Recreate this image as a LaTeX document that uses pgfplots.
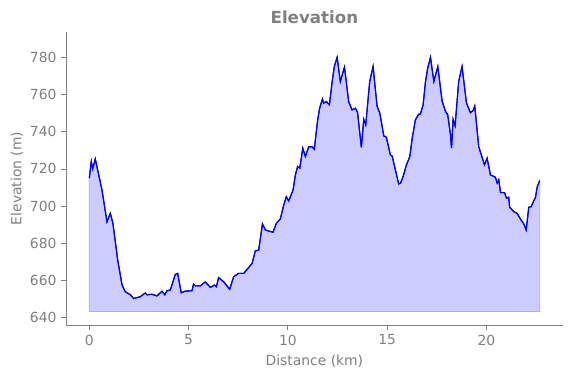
\documentclass[border=0pt]{standalone}
\usepackage{fontspec}
\setmainfont{DejaVu Sans}
\usepackage{pgfplots}
\pgfplotsset{compat=1.18}
\usepgfplotslibrary{fillbetween}
\usepackage{pgfplotstable}
\definecolor{txtgray}{HTML}{808080}
\definecolor{fillc}{HTML}{CCCCFF}
\definecolor{edgec}{HTML}{AAAAF5}
\pgfplotstableread{
x y
0.00 715
0.10 724
0.17 720
0.30 725.4
0.42 719.5
0.64 708.6
0.89 691.5
1.06 696
1.19 690.6
1.43 670.8
1.65 657.3
1.81 653.7
2.07 652
2.23 650
2.57 651
2.82 653
2.90 652
3.16 652.3
3.41 651.4
3.66 654
3.80 652
3.91 654.2
4.08 654.6
4.33 663
4.45 663.6
4.63 653.1
4.84 654
5.17 654.2
5.25 657.7
5.34 656.8
5.59 656.8
5.84 659
6.10 656
6.30 657.3
6.40 656.4
6.51 661.3
6.77 659
7.07 655
7.27 661.8
7.52 663.6
7.78 663.6
8.20 669
8.36 675.7
8.53 676.2
8.72 690.3
8.87 687
9.25 685.8
9.42 690.6
9.62 693
9.79 700.5
9.92 705
10.04 702.7
10.26 708.6
10.38 716.8
10.49 721.3
10.60 720.4
10.75 731.2
10.88 726.7
11.05 732
11.22 732
11.33 730.6
11.50 746.5
11.60 752.8
11.74 757.8
11.80 755.5
11.94 756.4
12.09 754.6
12.23 767.2
12.34 775.3
12.48 780.3
12.64 767.2
12.85 775
13.06 756.4
13.23 751.9
13.40 752.8
13.51 750.4
13.70 731.7
13.82 746.8
13.92 743.8
14.12 767.2
14.29 775.3
14.49 754
14.63 750.1
14.83 737.8
14.96 737.1
15.16 727.6
15.25 727
15.58 711.9
15.67 712.3
15.80 715.8
15.97 722.2
16.14 726.7
16.26 736.6
16.42 746.5
16.59 749.6
16.67 749.6
16.81 754.6
16.93 767.2
17.04 774.4
17.18 780.3
17.35 767.2
17.55 775.3
17.77 756.4
17.94 751
18.05 749.2
18.19 738.4
18.24 731.2
18.32 746.8
18.42 743.2
18.60 767.2
18.77 775.3
18.99 755.8
19.19 750.4
19.33 751.5
19.41 754
19.61 732
19.90 722.2
20.03 725.8
20.20 716.8
20.45 715.5
20.54 712.3
20.62 714.1
20.71 707.2
20.91 707.2
21.01 704.2
21.12 704.7
21.17 699.3
21.38 696.9
21.54 696
21.71 693
21.88 690.3
22.00 687
22.13 699.3
22.25 699.6
22.35 702
22.47 704.7
22.55 710.1
22.68 713.7
}\elev
\pgfplotstableread{
x y
0.00 643
22.68 643
}\base
\begin{document}
\begin{tikzpicture}
\begin{axis}[
  scale only axis,
  width=357.3pt, height=211pt,
  xmin=-1.16, xmax=23.83,
  ymin=635.7, ymax=794,
  axis x line*=bottom, axis y line*=left,
  axis line style={txtgray, line width=0.6pt},
  tick style={txtgray, line width=0.6pt},
  tick align=outside,
  major tick length=3.5pt,
  xtick={0,5,10,15,20},
  ytick={640,660,680,700,720,740,760,780},
  ticklabel style={font=\fontsize{10}{12}\selectfont, text=txtgray},
  /pgf/number format/assume math mode=true,
  xlabel={Distance (km)}, ylabel={Elevation (m)},
  every axis x label/.style={at={(axis description cs:0.5,0)}, anchor=center, yshift=-25.9pt, font=\fontsize{10}{12}\selectfont, text=txtgray},
  every axis y label/.style={at={(axis description cs:0,0.5)}, anchor=center, rotate=90, yshift=35.5pt, font=\fontsize{10}{12}\selectfont, text=txtgray},
  title={\textbf{Elevation}},
  every axis title/.style={at={(axis description cs:0.5,1)}, anchor=base, yshift=5.8pt, font=\fontsize{12}{14}\selectfont, text=txtgray},
  clip=false,
]
\addplot[name path=top, blue, line width=0.8pt] table {\elev};
\addplot[name path=bot, draw=none] table {\base};
\addplot[fill=fillc, draw=edgec, line width=0.6pt] fill between[of=top and bot];
\addplot[blue, line width=0.8pt] table {\elev};
\end{axis}
\pgfresetboundingbox
\path ([shift={(-47.7pt,-38.2pt)}]current axis.south west) rectangle ([shift={(6.1pt,23pt)}]current axis.north east);
\end{tikzpicture}
\end{document}
